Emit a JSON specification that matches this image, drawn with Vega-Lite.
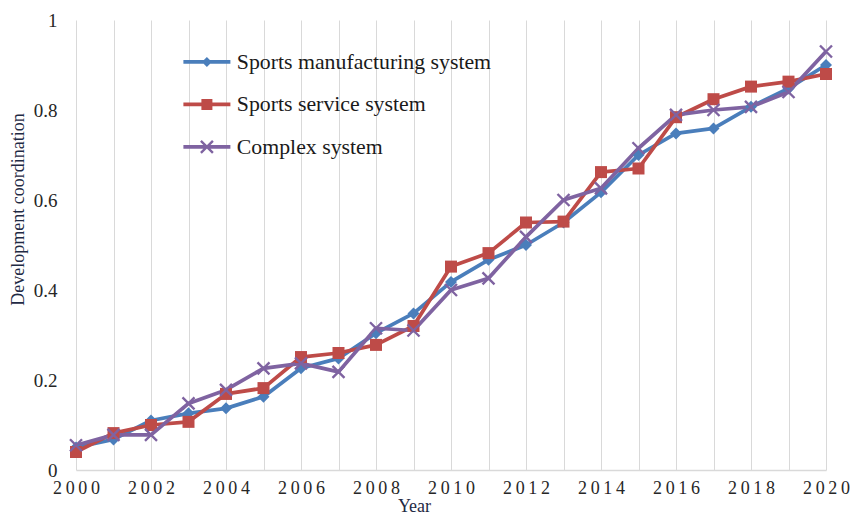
{
  "$schema": "https://vega.github.io/schema/vega-lite/v6.json",
  "width": 750,
  "height": 450,
  "autosize": {"type": "none"},
  "padding": {"left": 76, "top": 20, "right": 24, "bottom": 46},
  "background": "white",
  "config": {
    "view": {"stroke": null},
    "font": "Liberation Serif",
    "legend": {
      "labelFont": "Liberation Serif",
      "labelFontSize": 21.8,
      "labelColor": "#1a1a1a",
      "labelLimit": 400,
      "symbolStrokeWidth": 0,
      "symbolOpacity": 1
    }
  },
  "data": {
    "values": [
      {"year": 2000, "series": "Sports manufacturing system", "value": 0.05},
      {"year": 2001, "series": "Sports manufacturing system", "value": 0.068},
      {"year": 2002, "series": "Sports manufacturing system", "value": 0.11},
      {"year": 2003, "series": "Sports manufacturing system", "value": 0.126},
      {"year": 2004, "series": "Sports manufacturing system", "value": 0.137},
      {"year": 2005, "series": "Sports manufacturing system", "value": 0.163},
      {"year": 2006, "series": "Sports manufacturing system", "value": 0.226},
      {"year": 2007, "series": "Sports manufacturing system", "value": 0.248},
      {"year": 2008, "series": "Sports manufacturing system", "value": 0.304},
      {"year": 2009, "series": "Sports manufacturing system", "value": 0.348},
      {"year": 2010, "series": "Sports manufacturing system", "value": 0.418},
      {"year": 2011, "series": "Sports manufacturing system", "value": 0.467},
      {"year": 2012, "series": "Sports manufacturing system", "value": 0.5},
      {"year": 2013, "series": "Sports manufacturing system", "value": 0.55},
      {"year": 2014, "series": "Sports manufacturing system", "value": 0.617},
      {"year": 2015, "series": "Sports manufacturing system", "value": 0.7},
      {"year": 2016, "series": "Sports manufacturing system", "value": 0.748},
      {"year": 2017, "series": "Sports manufacturing system", "value": 0.759},
      {"year": 2018, "series": "Sports manufacturing system", "value": 0.807},
      {"year": 2019, "series": "Sports manufacturing system", "value": 0.848},
      {"year": 2020, "series": "Sports manufacturing system", "value": 0.9},
      {"year": 2000, "series": "Sports service system", "value": 0.04},
      {"year": 2001, "series": "Sports service system", "value": 0.082},
      {"year": 2002, "series": "Sports service system", "value": 0.1},
      {"year": 2003, "series": "Sports service system", "value": 0.107},
      {"year": 2004, "series": "Sports service system", "value": 0.169},
      {"year": 2005, "series": "Sports service system", "value": 0.182},
      {"year": 2006, "series": "Sports service system", "value": 0.251},
      {"year": 2007, "series": "Sports service system", "value": 0.26},
      {"year": 2008, "series": "Sports service system", "value": 0.278},
      {"year": 2009, "series": "Sports service system", "value": 0.32},
      {"year": 2010, "series": "Sports service system", "value": 0.452},
      {"year": 2011, "series": "Sports service system", "value": 0.482},
      {"year": 2012, "series": "Sports service system", "value": 0.55},
      {"year": 2013, "series": "Sports service system", "value": 0.552},
      {"year": 2014, "series": "Sports service system", "value": 0.662},
      {"year": 2015, "series": "Sports service system", "value": 0.67},
      {"year": 2016, "series": "Sports service system", "value": 0.784},
      {"year": 2017, "series": "Sports service system", "value": 0.824},
      {"year": 2018, "series": "Sports service system", "value": 0.852},
      {"year": 2019, "series": "Sports service system", "value": 0.863},
      {"year": 2020, "series": "Sports service system", "value": 0.88},
      {"year": 2000, "series": "Complex system", "value": 0.055},
      {"year": 2001, "series": "Complex system", "value": 0.078},
      {"year": 2002, "series": "Complex system", "value": 0.078},
      {"year": 2003, "series": "Complex system", "value": 0.148},
      {"year": 2004, "series": "Complex system", "value": 0.178},
      {"year": 2005, "series": "Complex system", "value": 0.226},
      {"year": 2006, "series": "Complex system", "value": 0.237},
      {"year": 2007, "series": "Complex system", "value": 0.218},
      {"year": 2008, "series": "Complex system", "value": 0.315},
      {"year": 2009, "series": "Complex system", "value": 0.31},
      {"year": 2010, "series": "Complex system", "value": 0.4},
      {"year": 2011, "series": "Complex system", "value": 0.426},
      {"year": 2012, "series": "Complex system", "value": 0.518},
      {"year": 2013, "series": "Complex system", "value": 0.6},
      {"year": 2014, "series": "Complex system", "value": 0.626},
      {"year": 2015, "series": "Complex system", "value": 0.715},
      {"year": 2016, "series": "Complex system", "value": 0.789},
      {"year": 2017, "series": "Complex system", "value": 0.8},
      {"year": 2018, "series": "Complex system", "value": 0.807},
      {"year": 2019, "series": "Complex system", "value": 0.84},
      {"year": 2020, "series": "Complex system", "value": 0.93}
    ]
  },
  "encoding": {
    "x": {
      "field": "year",
      "type": "quantitative",
      "scale": {"domain": [2000, 2020], "nice": false, "zero": false},
      "axis": {
        "title": "Year",
        "titleFont": "Liberation Serif",
        "titleFontSize": 18,
        "titleFontWeight": "normal",
        "titleColor": "#1f2a44",
        "titleX": 338,
        "titleY": 27,
        "titleAlign": "center",
        "titleBaseline": "top",
        "values": [2000, 2001, 2002, 2003, 2004, 2005, 2006, 2007, 2008, 2009, 2010, 2011, 2012, 2013, 2014, 2015, 2016, 2017, 2018, 2019, 2020],
        "labelExpr": "datum.value % 2 == 0 ? join(split(format(datum.value, 'd'), ''), '\u2009') : ''",
        "labelFont": "Liberation Serif",
        "labelFontSize": 18,
        "labelColor": "#262626",
        "labelPadding": 9,
        "labelOverlap": false,
        "labelFlush": false,
        "ticks": false,
        "grid": true,
        "gridColor": "#d9d9d9",
        "gridWidth": 1,
        "domain": true,
        "domainColor": "#d9d9d9",
        "domainWidth": 1.5
      }
    },
    "y": {
      "field": "value",
      "type": "quantitative",
      "scale": {"domain": [0, 1], "nice": false},
      "axis": {
        "title": "Development coordination",
        "titleFont": "Liberation Serif",
        "titleFontSize": 18,
        "titleFontWeight": "normal",
        "titleColor": "#1f2a44",
        "titleAngle": -90,
        "titleX": -49,
        "titleY": 189,
        "titleAlign": "center",
        "titleBaseline": "bottom",
        "values": [0, 0.2, 0.4, 0.6, 0.8, 1],
        "format": ".1~f",
        "labelFont": "Liberation Serif",
        "labelFontSize": 19,
        "labelColor": "#262626",
        "labelPadding": 19,
        "ticks": false,
        "grid": false,
        "domain": false
      }
    },
    "color": {
      "field": "series",
      "type": "nominal",
      "scale": {
        "domain": ["Sports manufacturing system", "Sports service system", "Complex system"],
        "range": ["#4a7ebb", "#be4b48", "#7f63a1"]
      },
      "legend": {
        "title": null,
        "orient": "none",
        "legendX": 120,
        "legendY": 31,
        "labelOffset": 19,
        "symbolSize": 100,
        "rowPadding": 19.5
      }
    }
  },
  "layer": [
    {
      "transform": [{"filter": "false"}],
      "mark": {"type": "point", "filled": true, "opacity": 1, "strokeWidth": 0},
      "encoding": {
        "shape": {
          "field": "series",
          "type": "nominal",
          "scale": {
            "domain": ["Sports manufacturing system", "Sports service system", "Complex system"],
            "range": [
              "M-4.7,-0.37H4.7V0.37H-4.7Z M0,-1L1,0L0,1L-1,0Z",
              "M-4.7,-0.37H4.7V0.37H-4.7Z M-1.1,-1.1H1.1V1.1H-1.1Z",
              "M-4.7,-0.37H4.7V0.37H-4.7Z M-1.03,-1.37L1.37,1.03L1.03,1.37L-1.37,-1.03Z M-1.37,1.03L1.03,-1.37L1.37,-1.03L-1.03,1.37Z"
            ]
          },
          "legend": {
            "title": null,
            "orient": "none",
            "legendX": 120,
            "legendY": 31,
            "labelOffset": 19,
            "symbolSize": 100,
            "rowPadding": 19.5
          }
        }
      }
    },
    {
      "mark": {"type": "line", "strokeWidth": 3.75, "strokeJoin": "round"}
    },
    {
      "mark": {"type": "point", "filled": true, "opacity": 1, "strokeWidth": 0, "size": 144},
      "encoding": {
        "shape": {
          "condition": [
            {"test": "datum.series === 'Sports service system'", "value": "square"},
            {"test": "datum.series === 'Complex system'", "value": "M-0.86,-1.14L1.14,0.86L0.86,1.14L-1.14,-0.86Z M-1.14,0.86L0.86,-1.14L1.14,-0.86L-0.86,1.14Z"}
          ],
          "value": "diamond"
        }
      }
    }
  ]
}
